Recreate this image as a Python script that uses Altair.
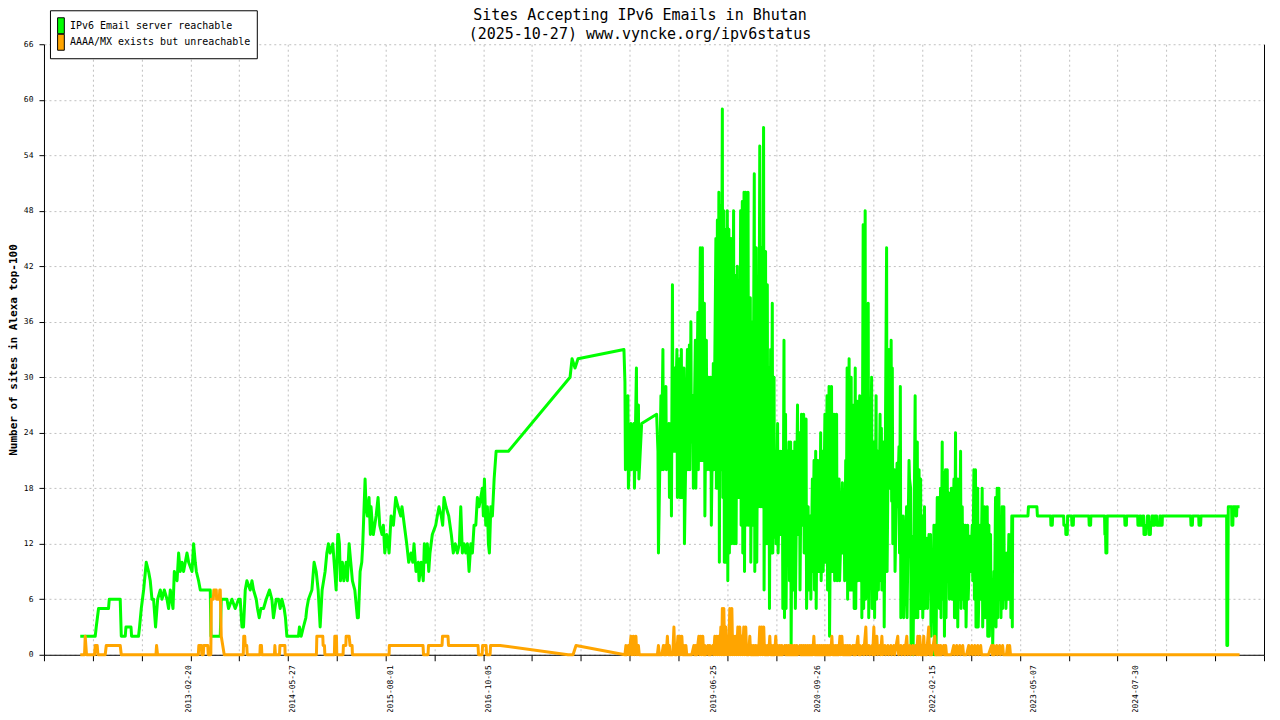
import altair as alt
import pandas as pd

GREEN = "IPv6 Email server reachable"
ORANGE = "AAAA/MX exists but unreachable"

# ---- green series (decimal year, sites) : sparse parts ----
green_t = [
    2011.835, 2012.016, 2012.028, 2012.056, 2012.176, 2012.185, 2012.317, 2012.330, 2012.378, 2012.386,
    2012.447, 2012.454, 2012.538, 2012.550, 2012.571, 2012.599, 2012.631, 2012.659, 2012.679, 2012.700,
    2012.719, 2012.743, 2012.768, 2012.800, 2012.821, 2012.848, 2012.881, 2012.900, 2012.921, 2012.953,
    2012.969, 2013.002, 2013.021, 2013.041, 2013.062, 2013.081, 2013.122, 2013.142, 2013.183, 2013.202,
    2013.222, 2013.235, 2013.262, 2013.283, 2013.403, 2013.412, 2013.524, 2013.536, 2013.605, 2013.624,
    2013.665, 2013.705, 2013.745, 2013.765, 2013.786, 2013.805, 2013.826, 2013.846, 2013.886, 2013.907,
    2013.926, 2013.959, 2013.974, 2013.995, 2014.015, 2014.047, 2014.079, 2014.119, 2014.148, 2014.167,
    2014.200, 2014.228, 2014.248, 2014.269, 2014.296, 2014.312, 2014.329, 2014.469, 2014.481, 2014.502,
    2014.529, 2014.558, 2014.570, 2014.590, 2014.631, 2014.658, 2014.683, 2014.707, 2014.731, 2014.755,
    2014.791, 2014.812, 2014.831, 2014.851, 2014.884, 2014.900, 2014.924, 2014.944,
    2014.952, 2014.964, 2014.976, 2015.000, 2015.017, 2015.045, 2015.060, 2015.081, 2015.101, 2015.121,
    2015.150, 2015.181, 2015.193, 2015.214, 2015.234, 2015.246, 2015.274, 2015.286, 2015.302, 2015.322,
    2015.338, 2015.346, 2015.362, 2015.374, 2015.407, 2015.431, 2015.451, 2015.479, 2015.495, 2015.512,
    2015.536, 2015.552, 2015.564, 2015.588, 2015.616, 2015.644, 2015.672, 2015.705, 2015.720, 2015.748,
    2015.777, 2015.801, 2015.829, 2015.850, 2015.865, 2015.889, 2015.917, 2015.926, 2015.953, 2015.977,
    2015.990, 2016.010, 2016.026, 2016.043, 2016.058, 2016.086, 2016.127, 2016.146, 2016.167, 2016.194,
    2016.211, 2016.227, 2016.251, 2016.284, 2016.315, 2016.339, 2016.363, 2016.388, 2016.412, 2016.429,
    2016.448, 2016.469, 2016.489, 2016.509, 2016.529, 2016.550, 2016.569, 2016.589, 2016.610, 2016.629,
    2016.650, 2016.670, 2016.689, 2016.701, 2016.714, 2016.730, 2016.750, 2016.762, 2016.774, 2016.791,
    2016.810, 2016.831, 2016.855, 2017.003, 2017.748, 2017.772, 2017.808, 2017.844, 2018.399,
    2018.613, 2018.794,
    2023.093, 2023.278, 2023.284, 2023.386, 2023.392, 2023.552, 2023.555, 2023.572, 2023.576, 2023.709,
    2023.712, 2023.733, 2023.736, 2023.753, 2023.757, 2023.805, 2023.809, 2023.826, 2023.829, 2024.014,
    2024.018, 2024.035, 2024.038, 2024.203, 2024.207, 2024.215, 2024.219, 2024.231, 2024.235, 2024.445,
    2024.449, 2024.466, 2024.469, 2024.602, 2024.605, 2024.626, 2024.629, 2024.638, 2024.641, 2024.662,
    2024.666, 2024.674, 2024.678, 2024.698, 2024.702, 2024.716, 2024.720, 2024.734, 2024.738, 2024.755,
    2024.758, 2024.770, 2024.774, 2024.788, 2024.792, 2024.806, 2024.810, 2024.830, 2024.834, 2024.867,
    2024.870, 2024.879, 2024.882, 2024.897, 2024.900, 2025.241, 2025.245, 2025.262, 2025.266, 2025.338,
    2025.342, 2025.362, 2025.366, 2025.676, 2025.679, 2025.688, 2025.691, 2025.696, 2025.736, 2025.739,
    2025.751, 2025.755, 2025.784, 2025.788, 2025.796, 2025.800, 2025.832,
]
green_v = [
    2, 2, 3, 5, 5, 6, 6, 2, 2, 3,
    3, 2, 2, 3, 5, 7, 10, 9, 8, 6,
    6, 3, 6, 7, 6, 7, 6, 5, 7, 5,
    9, 8, 11, 9, 10, 9, 11, 10, 9, 12,
    10, 9, 8, 7, 7, 2, 2, 6, 6, 5,
    6, 5, 6, 6, 3, 3, 7, 8, 7, 8,
    7, 6, 5, 4, 5, 5, 6, 7, 6, 4,
    6, 6, 5, 6, 5, 4, 2, 2, 3, 2,
    3, 4, 5, 6, 7, 10, 9, 7, 3, 7,
    9, 11, 12, 11, 12, 10, 7, 13,
    13, 12, 8, 10, 8, 10, 8, 12, 10, 8,
    7, 4, 4, 9, 10, 12, 19, 16, 15, 17,
    13, 16, 14, 13, 15, 17, 14, 13, 14, 11,
    13, 12, 11, 15, 14, 17, 16, 15, 16, 14,
    12, 10, 11, 10, 12, 9, 10, 8, 10, 8,
    12, 10, 12, 9, 11, 13, 14, 15, 16, 15,
    14, 17, 16, 15, 13, 11, 12, 11, 12, 16,
    11, 12, 11, 12, 9, 12, 11, 14, 14, 17,
    16, 17, 18, 15, 19, 14, 16, 12, 11, 16,
    15, 19, 22, 22, 30, 32, 31, 32, 33,
    25, 26,
    15, 15, 16, 16, 15, 15, 14, 14, 15, 15,
    14, 14, 13, 13, 15, 15, 14, 14, 15, 15,
    14, 14, 15, 15, 13, 13, 11, 11, 15, 15,
    14, 14, 15, 15, 14, 14, 15, 15, 14, 14,
    15, 15, 13, 13, 14, 14, 15, 15, 13, 13,
    14, 14, 15, 15, 14, 14, 15, 15, 14, 14,
    15, 15, 14, 14, 15, 15, 14, 14, 15, 15,
    14, 14, 15, 15, 1, 1, 8, 16, 16, 14,
    14, 16, 16, 15, 15, 16, 16,
]

# ---- green dense period: per sample-column high / low readings ----
gd_t = [
    2018.411, 2018.447, 2018.484, 2018.520, 2018.550, 2018.574, 2018.810, 2018.846, 2018.870, 2018.906,
    2018.943, 2018.967, 2018.985, 2019.009, 2019.039, 2019.069, 2019.093, 2019.124, 2019.166, 2019.190,
    2019.208, 2019.232, 2019.262, 2019.292, 2019.322, 2019.347, 2019.371, 2019.395, 2019.425, 2019.449,
    2019.479, 2019.510, 2019.528, 2019.546, 2019.566, 2019.588, 2019.606, 2019.630, 2019.648, 2019.667,
    2019.694, 2019.724, 2019.748, 2019.769, 2019.790, 2019.809, 2019.829, 2019.850, 2019.871, 2019.899,
    2019.926, 2019.950, 2019.974, 2019.998, 2020.020, 2020.040, 2020.061, 2020.086, 2020.110, 2020.131,
    2020.151, 2020.171, 2020.191, 2020.212, 2020.231, 2020.255, 2020.288, 2020.312, 2020.332, 2020.351,
    2020.372, 2020.392, 2020.412, 2020.432, 2020.463, 2020.495, 2020.519, 2020.543, 2020.569, 2020.598,
    2020.623, 2020.650, 2020.674, 2020.694, 2020.714, 2020.734, 2020.755, 2020.774, 2020.798, 2020.825,
    2020.851, 2020.875, 2020.905, 2020.936, 2020.966, 2020.996, 2021.036, 2021.057, 2021.076, 2021.093,
    2021.117, 2021.142, 2021.172, 2021.191, 2021.217, 2021.245, 2021.265, 2021.287, 2021.311, 2021.348,
    2021.389, 2021.419, 2021.443, 2021.465, 2021.491, 2021.507, 2021.535, 2021.570, 2021.600, 2021.625,
    2021.639, 2021.666, 2021.696, 2021.720, 2021.736, 2021.770, 2021.811, 2021.841, 2021.860, 2021.884,
    2021.915, 2021.941, 2021.962, 2021.981, 2022.001, 2022.028, 2022.058, 2022.082, 2022.101, 2022.122,
    2022.142, 2022.161, 2022.182, 2022.202, 2022.222, 2022.242, 2022.263, 2022.282, 2022.303, 2022.323,
    2022.353, 2022.384, 2022.403, 2022.424, 2022.444, 2022.464, 2022.484, 2022.505, 2022.524, 2022.550,
    2022.577, 2022.605, 2022.625, 2022.644, 2022.671, 2022.701, 2022.725, 2022.755, 2022.786, 2022.806,
    2022.826, 2022.846, 2022.867, 2022.886, 2022.906, 2022.927, 2022.946, 2022.966, 2022.987, 2023.006,
    2023.027, 2023.047, 2023.066, 2023.083,
]
gd_hi = [
    29.5, 28, 25, 25, 31, 27, 22, 28, 33, 29,
    25, 25, 40, 31, 33, 32, 33, 31, 33, 33.5,
    36, 28, 34, 37, 44, 44, 38, 34, 30, 30,
    31.5, 45, 47, 50, 48.6, 59, 48, 46, 48, 46,
    45, 48, 41, 42, 40.5, 48, 49, 50, 50, 50,
    38.6, 36, 52, 44, 36, 55, 44, 57, 43.6, 40,
    31, 33, 38, 30, 22, 25, 22, 22, 34, 26,
    22, 23, 23, 22, 23, 27, 24, 26, 26, 25.5,
    16, 15, 19, 21, 22, 21, 21, 24, 22, 26,
    28, 29, 29, 26, 26, 19, 18.6, 17, 21, 31,
    32, 30, 27, 31, 27.4, 28, 24, 46.5, 48, 38,
    30, 23, 28, 22, 26, 24.5, 23, 44, 33, 34,
    31, 20, 20.7, 22.5, 29, 15, 16, 21, 18, 12.8,
    28, 23, 20, 19, 15, 16, 12.6, 13, 13, 9.4,
    14, 14, 17, 17, 18, 23, 19.7, 20, 20, 17.5,
    18, 19, 24, 19, 19, 22, 16, 14, 14, 14,
    12.8, 14, 20, 20, 18, 14, 18, 16, 16, 14,
    13, 6, 9, 17, 18, 18, 13, 16, 16, 11,
    11, 13, 13, 15,
]
gd_lo = [
    20, 18, 20, 18, 20, 19, 11, 20, 20, 20,
    17, 15, 22, 22, 17, 17, 17, 12, 20, 20,
    23, 18, 18, 20, 21, 21, 15, 20, 20, 14,
    20, 18, 18, 10, 20, 17, 10, 10, 8, 11,
    12, 12, 12, 17, 17, 14, 11, 9, 14, 14,
    10, 14, 9, 10, 16, 16, 16, 7, 12, 12,
    5, 11, 11, 12.7, 12, 11, 13, 5, 4, 5,
    11, 8, 1, 7, 5, 13, 7, 14, 11, 5,
    7, 6, 9, 7, 5, 9, 9, 8, 9, 10,
    7, 2, 9, 8, 8, 8, 11, 8, 11, 6,
    7, 7, 5, 5, 8, 8, 4, 5, 6, 4,
    5, 4, 6, 7, 8, 7, 3, 9, 18, 16.6,
    12, 9, 16, 11, 4, 4, 4, 19, 1, 0,
    4, 4, 5, 5, 4, 5, 5, 11, 2, 5,
    0, 0, 6, 5, 4, 6, 2, 4, 9, 6,
    6, 4, 4, 3, 6, 5, 6, 5, 3, 6,
    9, 8, 6, 3, 3, 6, 3, 4, 2, 2,
    4, 1, 4, 3, 4, 6, 4, 5, 6, 5,
    6, 6, 4, 3,
]

# ---- orange series (decimal year, sites) : sparse parts ----
orange_t = [
    2011.835, 2011.887, 2011.895, 2011.911, 2012.007, 2012.016, 2012.040, 2012.048, 2012.136, 2012.149,
    2012.317, 2012.330, 2012.748, 2012.755, 2012.767, 2013.259, 2013.265, 2013.295, 2013.301, 2013.319,
    2013.325, 2013.373, 2013.379, 2013.410, 2013.416, 2013.440, 2013.446, 2013.476, 2013.480, 2013.512,
    2013.518, 2013.524, 2013.536, 2013.554, 2013.572, 2013.802, 2013.808, 2013.820, 2013.826, 2013.844,
    2013.850, 2014.003, 2014.007, 2014.022, 2014.027, 2014.179, 2014.184, 2014.191, 2014.240, 2014.245,
    2014.305, 2014.308, 2014.686, 2014.691, 2014.763, 2014.767, 2014.783, 2014.788, 2014.903, 2014.908,
    2014.928, 2014.932, 2015.008, 2015.012, 2015.041, 2015.045, 2015.081, 2015.093, 2015.117, 2015.121,
    2015.564, 2015.567, 2015.974, 2015.980, 2016.034, 2016.040, 2016.203, 2016.209, 2016.275, 2016.281,
    2016.637, 2016.643, 2016.686, 2016.692, 2016.734, 2016.740, 2016.782, 2016.788, 2016.903, 2017.724,
    2017.784, 2017.820, 2018.411, 2018.598, 2018.803, 2025.832,
]
orange_v = [
    0, 0, 2, 0, 0, 1, 1, 0, 0, 1,
    1, 0, 0, 1, 0, 0, 1, 1, 0, 0,
    1, 1, 0, 0, 6, 6, 7, 7, 6, 6,
    7, 7, 2, 1, 0, 0, 2, 2, 1, 1,
    0, 0, 1, 1, 0, 0, 1, 0, 0, 1,
    1, 0, 0, 2, 2, 1, 1, 0, 0, 2,
    2, 0, 0, 1, 1, 2, 2, 1, 1, 0,
    0, 1, 1, 0, 0, 1, 1, 2, 2, 1,
    1, 0, 0, 1, 1, 0, 0, 1, 1, 0,
    0, 1, 0, 0, 0, 0,
]

# ---- orange dense period: per sample-column peak readings ----
od_t = [
    2018.423, 2018.453, 2018.484, 2018.514, 2018.544, 2018.574, 2018.816, 2018.846, 2018.876, 2018.900,
    2018.924, 2018.948, 2018.979, 2019.003, 2019.027, 2019.051, 2019.075, 2019.099, 2019.124, 2019.148,
    2019.172, 2019.208, 2019.244, 2019.268, 2019.304, 2019.328, 2019.352, 2019.377, 2019.413, 2019.437,
    2019.473, 2019.497, 2019.521, 2019.546, 2019.570, 2019.588, 2019.606, 2019.630, 2019.654, 2019.678,
    2019.703, 2019.727, 2019.751, 2019.775, 2019.799, 2019.823, 2019.847, 2019.871, 2019.895, 2019.920,
    2019.944, 2019.968, 2019.992, 2020.016, 2020.040, 2020.064, 2020.088, 2020.112, 2020.137, 2020.161,
    2020.185, 2020.209, 2020.233, 2020.257, 2020.282, 2020.306, 2020.342, 2020.366, 2020.390, 2020.414,
    2020.438, 2020.463, 2020.487, 2020.523, 2020.547, 2020.571, 2020.595, 2020.620, 2020.644, 2020.668,
    2020.692, 2020.716, 2020.740, 2020.764, 2020.788, 2020.813, 2020.837, 2020.861, 2020.885, 2020.909,
    2020.933, 2020.958, 2020.982, 2021.006, 2021.030, 2021.054, 2021.078, 2021.102, 2021.127, 2021.163,
    2021.187, 2021.223, 2021.247, 2021.283, 2021.319, 2021.356, 2021.392, 2021.416, 2021.452, 2021.488,
    2021.513, 2021.549, 2021.585, 2021.621, 2021.657, 2021.705, 2021.742, 2021.778, 2021.814, 2021.850,
    2021.886, 2021.923, 2021.947, 2021.971, 2021.995, 2022.019, 2022.043, 2022.079, 2022.103, 2022.152,
    2022.176, 2022.200, 2022.224, 2022.260, 2022.284, 2022.321, 2022.345, 2022.381, 2022.417, 2022.454,
    2022.490, 2022.526, 2022.562, 2022.599, 2022.635, 2022.671, 2022.707, 2022.743, 2022.791, 2022.839,
    2022.864, 2022.900, 2022.936, 2022.972, 2023.008, 2023.032, 2023.057, 2023.081,
]
od_hi = [
    1, 1, 2, 2, 2, 1, 1, 0, 1, 1,
    2, 1, 0, 3, 1, 2, 2, 2, 1, 1,
    0, 0, 1, 1, 2, 2, 2, 1, 1, 1,
    1, 2, 2, 2, 3, 5, 5, 3, 2, 5,
    5, 2, 2, 3, 3, 2, 3, 3, 1, 2,
    1, 1, 1, 1, 3, 3, 3, 1, 1, 2,
    1, 1, 2, 1, 1, 1, 1, 1, 1, 1,
    1, 1, 1, 1, 1, 1, 1, 1, 1, 1,
    2, 1, 1, 1, 1, 1, 1, 1, 1, 2,
    1, 1, 1, 2, 2, 1, 1, 1, 1, 1,
    1, 2, 1, 1, 3, 1, 1, 3, 2, 1,
    2, 1, 1, 1, 1, 2, 1, 1, 2, 1,
    1, 1, 2, 2, 1, 2, 1, 3, 1, 2,
    1, 1, 1, 1, 1, 0, 0, 1, 1, 1,
    1, 0, 1, 1, 1, 1, 1, 0, 0, 1,
    1, 1, 1, 1, 0, 1, 1, 0,
]

x_label_dates = ["2013-02-20", "2014-05-27", "2015-08-01", "2016-10-05", "2019-06-25",
                 "2020-09-26", "2022-02-15", "2023-05-07", "2024-07-30"]
y_ticks = [0, 6, 12, 18, 24, 30, 36, 42, 48, 54, 60, 66]
x_grid_start = 2011.3967   # first x grid line (decimal year)
x_grid_step = 0.58923      # spacing of x grid lines (years)
x_grid_count = 26


def to_ts(y):
    yi = int(y)
    start = pd.Timestamp(yi, 1, 1)
    span = pd.Timestamp(yi + 1, 1, 1) - start
    return start + span * (y - yi)


def to_iso(y):
    return to_ts(y).strftime("%Y-%m-%dT%H:%M:%SZ")


def to_ms(ts):
    return int(ts.value // 10**6)


g_pts = list(zip(green_t, green_v))
for t, hi, lo in zip(gd_t, gd_hi, gd_lo):
    g_pts.append((t, hi))
    g_pts.append((t + 0.006, lo))
g_pts.sort()

o_pts = list(zip(orange_t, orange_v))
for t, hi in zip(od_t, od_hi):
    o_pts.append((t, hi))
    o_pts.append((t + 0.010, 0))
o_pts.sort()

df_g = pd.DataFrame({"t": [to_iso(t) for t, _ in g_pts], "v": [v for _, v in g_pts], "series": GREEN})
df_o = pd.DataFrame({"t": [to_iso(t) for t, _ in o_pts], "v": [v for _, v in o_pts], "series": ORANGE})
LEG_KEYS = ["k_reach", "k_unreach"]
df_leg = pd.DataFrame({"key": LEG_KEYS})

grid_ms = [to_ms(to_ts(x_grid_start + i * x_grid_step)) for i in range(x_grid_count)]
label_ms = [to_ms(pd.Timestamp(d)) for d in x_label_dates]

FONT = "DejaVu Sans Mono"
SYMBOL = "M-0.84,-2H0.84V2H-0.84Z"
COLORS = ["#00ff00", "#ffa500"]

x_scale = alt.Scale(type="utc", domain=[grid_ms[0], grid_ms[-1]], nice=False)
y_scale = alt.Scale(domain=[0, 66], nice=False)
color_scale = alt.Scale(domain=[GREEN, ORANGE], range=COLORS)

green = alt.Chart(df_g).mark_line(strokeWidth=3, strokeJoin="round").encode(
    x=alt.X("t:T", scale=x_scale,
            axis=alt.Axis(orient="bottom", values=grid_ms, labels=False, ticks=True, tickSize=6,
                          grid=True, domain=True, title=None)),
    y=alt.Y("v:Q", scale=y_scale,
            axis=alt.Axis(orient="left", values=y_ticks, grid=True, tickSize=5, labelPadding=6,
                          title="Number of sites in Alexa top-100", titleFont=FONT, titleFontSize=11,
                          titleFontWeight="bold", titleColor="black", titleAngle=270,
                          titleAlign="center", titleBaseline="middle", titleX=-30, titleY=305.5)),
    color=alt.Color("series:N", scale=color_scale, legend=None),
)

orange = alt.Chart(df_o).mark_line(strokeWidth=3, strokeJoin="round").encode(
    x=alt.X("t:T", scale=x_scale,
            axis=alt.Axis(orient="bottom", values=label_ms, format="%Y-%m-%d", labelAngle=270,
                          ticks=False, tickSize=0, labelPadding=10, grid=False, domain=False,
                          title=None, labelOverlap=False, labelFlush=False)),
    y=alt.Y("v:Q", scale=y_scale,
            axis=alt.Axis(orient="right", labels=False, ticks=False, grid=False, domain=True, title=None)),
    color=alt.Color("series:N", scale=color_scale, legend=None),
)

label_expr = f"datum.label == '{LEG_KEYS[0]}' ? '{GREEN}' : '{ORANGE}'"
legend_layer = alt.Chart(df_leg).mark_point(filled=True, opacity=0, shape=SYMBOL).encode(
    fill=alt.Fill("key:N", scale=alt.Scale(domain=LEG_KEYS, range=COLORS),
                  legend=alt.Legend(title=" ", titleFontSize=1, titlePadding=3.5,
                                    orient="none", legendX=6, legendY=-34,
                                    labelExpr=label_expr, labelLimit=400,
                                    symbolType=SYMBOL, symbolSize=64, symbolStrokeColor="black",
                                    symbolStrokeWidth=1, symbolOpacity=1,
                                    labelFont=FONT, labelFontSize=10, labelColor="black",
                                    labelOffset=4, rowPadding=-3.5, padding=6, fillColor="white",
                                    strokeColor="black", direction="vertical")),
)

chart = alt.layer(green, orange, legend_layer).resolve_axis(
    x="independent", y="independent"
).properties(
    width=1221,
    height=611,
    title=alt.TitleParams(
        text=["Sites Accepting IPv6 Emails in Bhutan", "(2025-10-27) www.vyncke.org/ipv6status"],
        font=FONT, fontSize=15, fontWeight="normal", color="black", anchor="middle",
        frame="group", dx=-14, dy=49, offset=2, lineHeight=18.5, baseline="bottom"),
    padding={"left": 36, "top": 36, "right": 8, "bottom": 57},
    autosize=alt.AutoSizeParams(type="none"),
    background="white",
).configure_axis(
    labelFont=FONT, labelFontSize=8, labelColor="black", domainColor="black", tickColor="black",
    gridColor="#c0c0c0", gridDash=[2, 3], gridWidth=1, domainWidth=1, tickWidth=1,
).configure_view(stroke=None)

chart.save("out.html", embed_options={"renderer": "svg", "actions": False})
